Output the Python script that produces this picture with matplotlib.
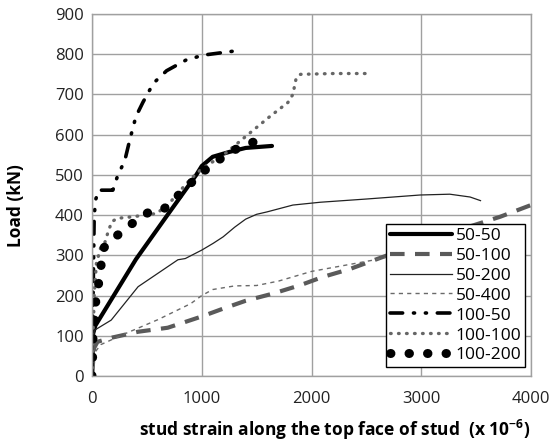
import matplotlib
matplotlib.use("Agg")
import matplotlib.pyplot as plt

plt.rcParams['font.family'] = ['Open Sans', 'DejaVu Sans']
plt.rcParams['mathtext.fontset'] = 'custom'
plt.rcParams['mathtext.rm'] = 'Open Sans:bold'
plt.rcParams['mathtext.bf'] = 'Open Sans:bold'

# ---- data (strain x 1e-6, load kN) ----
x_50_50 = [0, 10, 30, 400, 700, 950, 1000, 1100, 1250, 1400, 1640]
y_50_50 = [0, 105, 125, 290, 405, 500, 522, 545, 557, 567, 572]

x_50_100 = [0, 20, 50, 175, 420, 690, 1000, 1200, 1400, 1650, 1900, 2100, 2350, 2650, 3000, 3400, 3720, 4000]
y_50_100 = [0, 70, 85, 95, 110, 120, 148, 168, 187, 205, 226, 246, 266, 296, 330, 368, 396, 425]

x_50_200 = [0, 10, 24, 175, 420, 783, 850, 1000, 1105, 1195, 1300, 1400, 1500, 1595, 1830, 2080, 2500, 2990, 3260, 3445, 3540]
y_50_200 = [0, 90, 114, 139, 222, 289, 292, 313, 330, 346, 370, 390, 402, 408, 425, 432, 440, 450, 452, 445, 436]

x_50_400 = [0, 30, 80, 300, 600, 900, 1000, 1100, 1300, 1500, 1700, 2000, 2300, 2600, 2720]
y_50_400 = [0, 60, 78, 105, 140, 180, 200, 215, 224, 225, 236, 260, 275, 290, 298]

x_100_50 = [0, 5, 10, 15, 20, 35, 60, 190, 230, 300, 346, 400, 465, 560, 680, 860, 1020, 1300]
y_100_50 = [0, 100, 200, 300, 400, 440, 462, 462, 495, 537, 589, 645, 681, 728, 759, 786, 798, 808]

x_100_100 = [0, 10, 20, 40, 80, 115, 152, 182, 231, 373, 586, 692, 768, 900, 1000, 1200, 1420, 1620, 1785, 1830, 1860, 1900, 2200, 2500]
y_100_100 = [0, 100, 200, 280, 320, 330, 363, 384, 392, 396, 404, 425, 450, 490, 515, 550, 600, 645, 680, 700, 740, 750, 752, 752]

x_100_200 = [0, 5, 8, 10, 24, 30, 49, 70, 85, 100, 176, 292, 395, 510, 647, 747, 844, 935, 1027, 1150, 1257, 1378, 1500]
y_100_200 = [0, 40, 80, 110, 140, 177, 210, 247, 280, 316, 340, 361, 386, 406, 413, 440, 463, 489, 511, 536, 558, 571, 585]

x_ticks = [0, 1000, 2000, 3000, 4000]
y_ticks = [0, 100, 200, 300, 400, 500, 600, 700, 800, 900]

fig = plt.figure(figsize=(5.6, 4.41), dpi=100)
ax = fig.add_axes([92/560, 65/441, 439/560, 362/441])

gray = '#5a5a5a'
ax.plot(x_50_50, y_50_50, color='black', lw=3.0, label='50-50', solid_capstyle='round')
ax.plot(x_50_100, y_50_100, color=gray, lw=3.0, dashes=(3.5, 2.5), label='50-100')
ax.plot(x_50_200, y_50_200, color='#222222', lw=0.9, label='50-200')
ax.plot(x_50_400, y_50_400, color='#6a6a6a', lw=1.0, dashes=(3, 3), label='50-400')
ax.plot(x_100_50, y_100_50, color='black', lw=2.6, dashes=(3.5, 3, 0.3, 3, 0.3, 3),
        dash_capstyle='round', label='100-50')
ax.plot(x_100_100, y_100_100, color='#666666', lw=2.4, dashes=(0.2, 2.2),
        dash_capstyle='round', label='100-100')
ax.plot(x_100_200, y_100_200, color='black', lw=6.5, dashes=(0.05, 2.0),
        dash_capstyle='round', label='100-200')

ax.set_xlim(0, 4000)
ax.set_ylim(0, 900)
ax.set_xticks(x_ticks)
ax.set_yticks(y_ticks)
ax.grid(True, color='#a0a0a0', lw=1.0)
ax.set_axisbelow(True)
for s in ax.spines.values():
    s.set_color('#a0a0a0')
    s.set_linewidth(1.0)
ax.tick_params(length=0, labelsize=12, colors='#222222', pad=6)
ax.tick_params(axis='x', pad=11)

ax.set_ylabel('Load (kN)', fontsize=12.5, fontweight='bold')
ax.set_xlabel(r'stud strain along the top face of stud  (x 10$^{-6}$)',
              fontsize=12.5, fontweight='bold')
ax.yaxis.set_label_coords(-0.152, 0.47)
ax.xaxis.set_label_coords(0.553, -0.117)

leg = ax.legend(loc='lower right', bbox_to_anchor=(0.986, 0.025), borderaxespad=0,
                fontsize=12.5, frameon=True, fancybox=False, handlelength=3.6,
                handletextpad=0.2, labelspacing=0.22, borderpad=0.2)
leg.get_frame().set_edgecolor('black')
leg.get_frame().set_linewidth(1.0)
leg.get_frame().set_alpha(1.0)

fig.savefig('out.png', dpi=100)
